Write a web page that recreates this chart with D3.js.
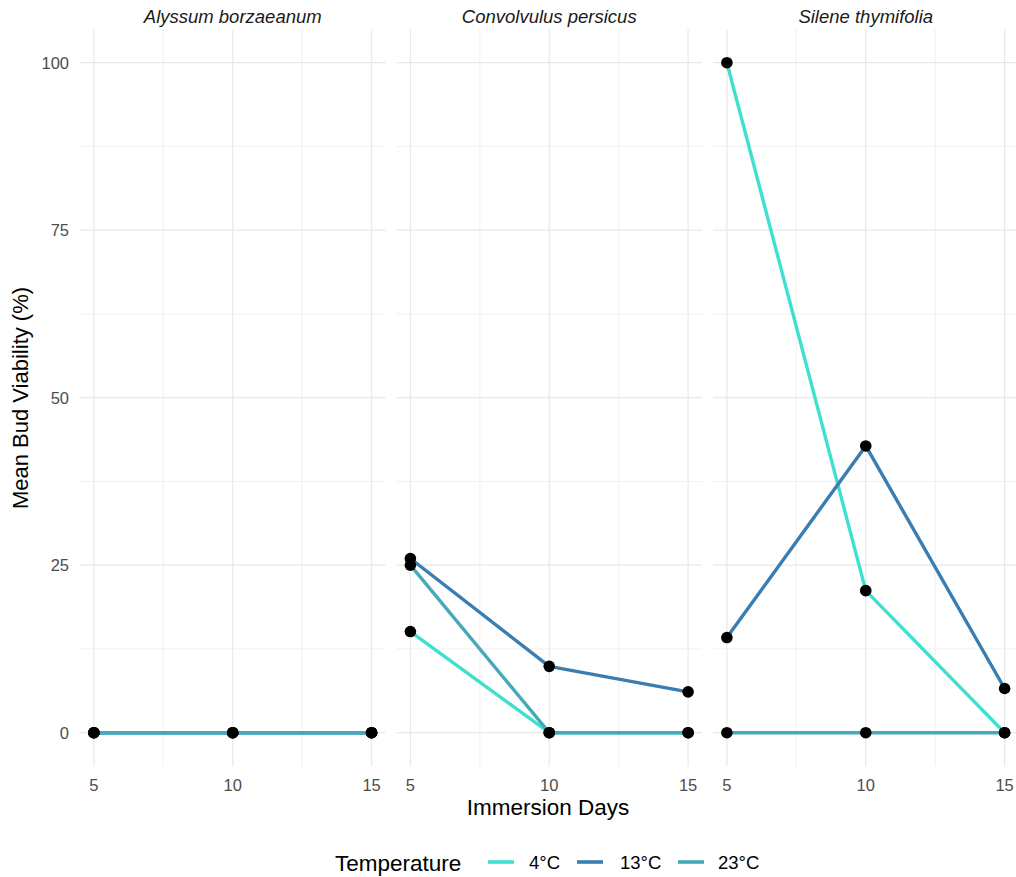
<!DOCTYPE html>
<html><head><meta charset="utf-8">
<script src="https://cdn.jsdelivr.net/npm/d3@7"></script>
<style>body{margin:0;background:#fff;} svg{display:block;}</style>
</head><body><svg id="c" width="1016" height="877"></svg>
<script>
const species = ["Alyssum borzaeanum", "Convolvulus persicus", "Silene thymifolia"];
const days = [5, 10, 15];
const temperatures = ["4°C", "13°C", "23°C"];
const colors = ["#40E0D0", "#3A7DB1", "#45A9BA"];
// values per species and temperature across days 5, 10, 15
const alyssum_4 = [0, 0, 0];
const alyssum_13 = [0, 0, 0];
const alyssum_23 = [0, 0, 0];
const convolvulus_4 = [15.1, 0, 0];
const convolvulus_13 = [26.0, 9.9, 6.1];
const convolvulus_23 = [25.0, 0, 0];
const silene_4 = [100, 21.2, 0];
const silene_13 = [14.2, 42.8, 6.6];
const silene_23 = [0, 0, 0];
const yTicks = [0, 25, 50, 75, 100];
const xTicks = [5, 10, 15];

const data = [
  [alyssum_4, alyssum_13, alyssum_23],
  [convolvulus_4, convolvulus_13, convolvulus_23],
  [silene_4, silene_13, silene_23]
];

const svg = d3.select("#c");
const panelLeft = 80, panelW = 305.5, gap = 11;
const plotTop = 29.2, plotBottom = 766.2;
const y = d3.scaleLinear().domain([-5, 105]).range([plotBottom, plotTop]);
const font = "'Liberation Sans', Arial, sans-serif";

species.forEach((sp, i) => {
  const x0 = panelLeft + i * (panelW + gap);
  const x = d3.scaleLinear().domain([4.5, 15.5]).range([x0, x0 + panelW]);
  const g = svg.append("g");
  const minorX = [7.5, 12.5];
  const minorY = [12.5, 37.5, 62.5, 87.5];
  g.selectAll(".mx").data(minorX).join("line")
    .attr("x1", d => x(d)).attr("x2", d => x(d)).attr("y1", plotTop).attr("y2", plotBottom)
    .attr("stroke", "#ebebeb").attr("stroke-width", 0.7);
  g.selectAll(".my").data(minorY).join("line")
    .attr("x1", x0).attr("x2", x0 + panelW).attr("y1", d => y(d)).attr("y2", d => y(d))
    .attr("stroke", "#ebebeb").attr("stroke-width", 0.7);
  g.selectAll(".gx").data(xTicks).join("line")
    .attr("x1", d => x(d)).attr("x2", d => x(d)).attr("y1", plotTop).attr("y2", plotBottom)
    .attr("stroke", "#e8e8e8").attr("stroke-width", 1.2);
  g.selectAll(".gy").data(yTicks).join("line")
    .attr("x1", x0).attr("x2", x0 + panelW).attr("y1", d => y(d)).attr("y2", d => y(d))
    .attr("stroke", "#e8e8e8").attr("stroke-width", 1.2);
  g.append("text").attr("x", x0 + panelW / 2).attr("y", 23)
    .attr("text-anchor", "middle").attr("font-family", font).attr("font-style", "italic")
    .attr("font-size", 18.5).attr("fill", "#1a1a1a").text(sp);
  g.selectAll(".xt").data(xTicks).join("text")
    .attr("x", d => x(d)).attr("y", 791).attr("text-anchor", "middle")
    .attr("font-family", font).attr("font-size", 16.5).attr("fill", "#4d4d4d").text(d => d);
  const line = d3.line().x((d, j) => x(days[j])).y(d => y(d));
  data[i].forEach((vals, t) => {
    g.append("path").datum(vals).attr("d", line).attr("fill", "none")
      .attr("stroke", colors[t]).attr("stroke-width", 3.4).attr("stroke-linejoin", "round");
  });
  data[i].forEach((vals) => {
    g.selectAll(null).data(vals).join("circle")
      .attr("cx", (d, j) => x(days[j])).attr("cy", d => y(d)).attr("r", 5.8).attr("fill", "#000");
  });
});

svg.selectAll(".yt").data(yTicks).join("text")
  .attr("x", 69).attr("y", d => y(d) + 6).attr("text-anchor", "end")
  .attr("font-family", font).attr("font-size", 16.5).attr("fill", "#4d4d4d").text(d => d);

svg.append("text").attr("x", 548).attr("y", 815).attr("text-anchor", "middle")
  .attr("font-family", font).attr("font-size", 22.5).attr("fill", "#000").text("Immersion Days");
svg.append("text").attr("transform", "translate(28,398) rotate(-90)").attr("text-anchor", "middle")
  .attr("font-family", font).attr("font-size", 22).attr("fill", "#000").text("Mean Bud Viability (%)");

const lg = svg.append("g");
lg.append("text").attr("x", 335).attr("y", 871).attr("font-family", font).attr("font-size", 22.5)
  .attr("fill", "#000").text("Temperature");
const keyX = [488, 577, 678];
const labelX = [529, 620, 718];
temperatures.forEach((t, k) => {
  lg.append("line").attr("x1", keyX[k]).attr("x2", keyX[k] + 26).attr("y1", 862).attr("y2", 862)
    .attr("stroke", colors[k]).attr("stroke-width", 3.6);
  lg.append("text").attr("x", labelX[k]).attr("y", 869).attr("font-family", font)
    .attr("font-size", 18.5).attr("fill", "#000").text(t);
});
</script></body></html>
